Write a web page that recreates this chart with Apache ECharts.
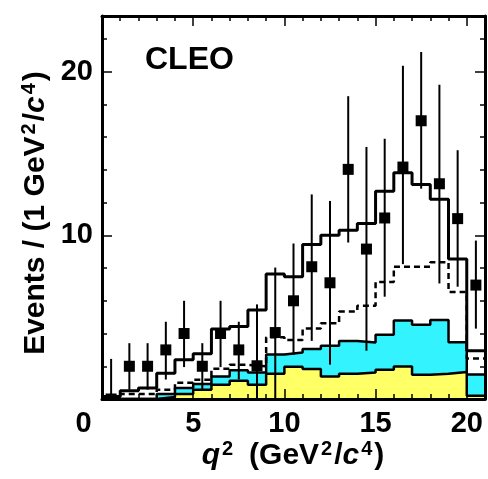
<!DOCTYPE html>
<html>
<head>
<meta charset="utf-8">
<script src="https://cdn.jsdelivr.net/npm/echarts@6/dist/echarts.min.js"></script>
<style>
html, body { margin: 0; padding: 0; background: #fff; }
#chart { width: 488px; height: 479px; }
</style>
</head>
<body>
<div id="chart"></div>
<script>
// q^2 bins, 1 GeV^2/c^4 wide: left edges and centres
const binEdges = [0, 1, 2, 3, 4, 5, 6, 7, 8, 9, 10, 11, 12, 13, 14, 15, 16, 17, 18, 19, 20];
const binCenters = [0.5, 1.5, 2.5, 3.5, 4.5, 5.5, 6.5, 7.5, 8.5, 9.5, 10.5, 11.5, 12.5, 13.5, 14.5, 15.5, 16.5, 17.5, 18.5, 19.5, 20.5];
const qMax = 21;

// data points with error bars
const dataEvents = [0, 2, 2, 3, 4, 2, 4, 3, 2.03, 4.06, 6.0, 8.08, 7.1, 14.03, 9.16, 11.06, 14.17, 17.0, 13.15, 11.02, 6.96];
const errLow  = [0, 0.57, 0.57, 1.19, 1.95, 0.57, 1.95, 1.19, 0, 0, 2.7, 3.55, 2.1, 9.56, 2.95, 6.25, 8.24, 12.85, 7.06, 6.86, 4.3];
const errHigh = [2.45, 3.41, 3.41, 4.72, 6.0, 3.41, 6.0, 4.72, 5.78, 8.03, 9.5, 12.5, 12.1, 18.5, 15.4, 15.9, 20.36, 21.2, 19.2, 15.2, 9.68];

// histograms
const totalFit  = [0.15, 0.5, 0.67, 1.58, 2.4, 2.76, 4.28, 4.43, 5.44, 7.63, 7.47, 9.44, 10.0, 10.31, 10.72, 12.69, 13.82, 13.1, 12.2, 8.55, 2.95];
const dashedFit = [0.1, 0.3, 0.3, 0.57, 1.0, 1.18, 1.85, 2.09, 2.0, 3.78, 3.6, 4.3, 4.63, 5.34, 5.7, 7.15, 8.08, 8.08, 8.36, 6.54, 2.47];
const cyanTop   = [0, 0, 0, 0.3, 0.67, 0.91, 1.38, 1.75, 1.62, 2.72, 2.84, 3.05, 3.25, 3.55, 3.45, 3.92, 4.79, 4.53, 4.83, 3.46, 1.5];
const yellowTop = [0, 0, 0, 0.12, 0.3, 0.57, 0.87, 1.12, 0.87, 1.54, 1.97, 1.83, 1.38, 1.54, 1.62, 1.79, 1.99, 1.48, 1.54, 1.65, 0.2];

const xTickLabels = ['0', '5', '10', '15', '20'];
const yTickLabels = ['10', '20'];

const FONT = '"Liberation Sans", Arial, Helvetica, sans-serif';

function stepData(vals) {
  const pts = vals.map((v, i) => [binEdges[i], v]);
  pts.push([qMax, vals[vals.length - 1]]);
  return pts;
}

// frame = axis lines of the major-tick axes, minor-tick axes only draw ticks
function tickAxis(pos, interval, len, frame, extra) {
  return Object.assign({
    type: 'value',
    position: pos,
    min: 0,
    interval: interval,
    axisLine: { show: frame, onZero: false, lineStyle: { color: '#000', width: 3 } },
    axisTick: { show: true, inside: true, length: len, lineStyle: { color: '#000', width: 1.5 } },
    axisLabel: { show: false },
    splitLine: { show: false },
    z: 10
  }, extra || {});
}

const chart = echarts.init(document.getElementById('chart'));

const supStyle = { fontSize: 20, fontWeight: 'bold', fontFamily: FONT, color: '#000', verticalAlign: 'top', lineHeight: 16, padding: [0, 2, 0, 2] };
const mainStyle = { fontSize: 30, fontWeight: 'bold', fontFamily: FONT, color: '#000', lineHeight: 34 };
const italStyle = Object.assign({}, mainStyle, { fontStyle: 'italic' });

const option = {
  animation: false,
  backgroundColor: '#fff',
  grid: { left: 102, right: 2, top: 16, bottom: 80 },
  xAxis: [
    tickAxis('bottom', 5, 10, true, {
      max: qMax,
      axisLabel: {
        show: true, margin: 10, fontSize: 29, fontWeight: 'bold', fontFamily: FONT, color: '#000',
        formatter: function (v) {
          const s = String(v);
          if (xTickLabels.indexOf(s) < 0) return '';
          return v === 0 ? '{z|0}' : s;
        },
        rich: { z: { fontSize: 29, fontWeight: 'bold', fontFamily: FONT, color: '#000', padding: [0, 37, 0, 0] } }
      }
    }),
    tickAxis('bottom', 1, 5, false, { max: qMax }),
    tickAxis('top', 5, 10, true, { max: qMax }),
    tickAxis('top', 1, 5, false, { max: qMax })
  ],
  yAxis: [
    tickAxis('left', 10, 10, true, {
      max: 23.4,
      axisLabel: {
        show: true, margin: 9, fontSize: 29, fontWeight: 'bold', fontFamily: FONT, color: '#000',
        formatter: function (v) { return yTickLabels.indexOf(String(v)) >= 0 ? String(v) : ''; }
      }
    }),
    tickAxis('left', 2, 5, false, { max: 23.4 }),
    tickAxis('right', 10, 10, true, { max: 23.4 }),
    tickAxis('right', 2, 5, false, { max: 23.4 })
  ],
  graphic: [
    {
      type: 'text', x: 145, y: 60,
      style: { text: 'CLEO', font: 'bold 32px ' + FONT, fill: '#000', align: 'left', verticalAlign: 'middle' },
      z: 20
    },
    {
      type: 'text', x: 293, y: 456,
      style: {
        text: '{qi|q}{sup|2}{gap| }{n|(GeV}{sup|2}{n|/}{ci|c}{sup|4}{n|)}',
        rich: { n: mainStyle, qi: italStyle, ci: italStyle, sup: supStyle, gap: { width: 14, fontSize: 30, lineHeight: 34 } },
        align: 'center', verticalAlign: 'middle'
      },
      z: 20
    },
    {
      type: 'text', x: 36, y: 213, rotation: Math.PI / 2,
      style: {
        text: '{n|Events / (1 GeV}{sup|2}{n|/}{ci|c}{sup|4}{n|)}',
        rich: { n: mainStyle, ci: italStyle, sup: supStyle },
        align: 'center', verticalAlign: 'middle'
      },
      z: 20
    }
  ],
  series: [
    {
      name: 'cyan', type: 'line', step: 'end', data: stepData(cyanTop),
      symbol: 'none', lineStyle: { color: '#000', width: 2.5 },
      areaStyle: { color: '#33f3ff', opacity: 1 }, z: 2
    },
    {
      name: 'yellow', type: 'line', step: 'end', data: stepData(yellowTop),
      symbol: 'none', lineStyle: { color: '#000', width: 2.5 },
      areaStyle: { color: '#ffff66', opacity: 1 }, z: 3
    },
    {
      name: 'dashed', type: 'line', step: 'end', data: stepData(dashedFit),
      symbol: 'none', lineStyle: { color: '#000', width: 2.5, type: [6, 4] }, z: 4
    },
    {
      name: 'total', type: 'line', step: 'end', data: stepData(totalFit),
      symbol: 'none', lineStyle: { color: '#000', width: 3 }, z: 5
    },
    {
      name: 'data', type: 'custom', clip: true, z: 6,
      data: binCenters.map((x, i) => [x, dataEvents[i], errLow[i], errHigh[i]]),
      encode: { x: 0, y: [1, 2, 3] },
      renderItem: function (params, api) {
        const x = api.value(0);
        const top = api.coord([x, api.value(3)]);
        const bot = api.coord([x, api.value(2)]);
        const mid = api.coord([x, api.value(1)]);
        const s = 11;
        return {
          type: 'group',
          children: [
            { type: 'line', shape: { x1: top[0], y1: top[1], x2: bot[0], y2: bot[1] }, style: { stroke: '#000', lineWidth: 2 } },
            { type: 'rect', shape: { x: mid[0] - s / 2, y: mid[1] - s / 2, width: s, height: s }, style: { fill: '#000' } }
          ]
        };
      }
    }
  ]
};

chart.setOption(option);
</script>
</body>
</html>
